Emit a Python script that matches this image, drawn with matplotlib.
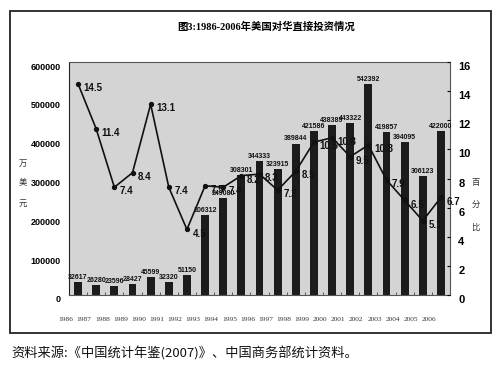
import matplotlib
matplotlib.use('Agg')
import matplotlib.pyplot as plt
import matplotlib.transforms as mtransforms
from matplotlib.patches import Rectangle
import numpy as np

plt.rcParams['font.family'] = ['Liberation Sans', 'Noto Sans CJK SC', 'DejaVu Sans']

years = ['1986', '1987', '1988', '1989', '1990', '1991', '1992', '1993', '1994', '1995', '1996',
         '1997', '1998', '1999', '2000', '2001', '2002', '2003', '2004', '2005', '2006']
# US direct investment in China, 10k USD
fdi = [32617, 26280, 23596, 28427, 45599, 32320, 51150, 206312, 249080, 308301, 344333,
       323915, 389844, 421586, 438389, 443322, 542392, 419857, 394095, 306123, 422000]
# share of total, %
share = [14.5, 11.4, 7.4, 8.4, 13.1, 7.4, 4.5, 7.5, 7.4, 8.2, 8.3,
         7.2, 8.5, 10.5, 10.8, 9.5, 10.3, 7.9, 6.5, 5.1, 6.7]

title = '图3:1986-2006年美国对华直接投资情况'
source = '资料来源:《中国统计年鉴(2007)》、中国商务部统计资料。'

fig = plt.figure(figsize=(4.95, 3.72), dpi=100)
fig.patch.set_facecolor('white')

# outer frame
fig.patches.append(Rectangle((0.02, 0.105), 0.972, 0.865, transform=fig.transFigure,
                             fill=False, edgecolor='#222222', linewidth=1.3))

ax = fig.add_axes([0.1394, 0.207, 0.7697, 0.6263])
ax.set_facecolor('#d4d4d4')
x = np.arange(len(years))
ax.bar(x, fdi, width=0.44, color='#1c1c1c', zorder=2)
ax.set_xlim(-0.5, len(years) - 0.5)
ax.set_ylim(0, 600000)
ax.set_yticks(range(0, 600001, 100000))
ax.tick_params(axis='y', labelsize=6.5, length=0, pad=6)
for lab in ax.get_yticklabels():
    lab.set_fontweight('bold')
    lab.set_transform(lab.get_transform() + mtransforms.ScaledTranslation(0, -4 / 100, fig.dpi_scale_trans))

ax.set_xticks(x)
ax.set_xticklabels(years, fontsize=5.3, family='Liberation Serif', color='#333333')
ax.tick_params(axis='x', length=0, pad=16)
for lab in ax.get_xticklabels():
    lab.set_transform(lab.get_transform() + mtransforms.ScaledTranslation(-12 / 100, 0, fig.dpi_scale_trans))
ax.set_xticks(x + 0.5, minor=True)
ax.tick_params(axis='x', which='minor', length=2, direction='in', color='#444444')

for sp in ax.spines.values():
    sp.set_color('#555555')
    sp.set_linewidth(0.8)
ax.spines['left'].set_color('#222222')

for i, v in enumerate(fdi):
    ax.text(i, v + 3000, str(v), ha='center', va='bottom', fontsize=5, fontweight='bold',
            color='#111111', zorder=3)

ax2 = ax.twinx()
ax2.plot(x, share, color='#111111', linewidth=1.2, marker='o', markersize=2.8, zorder=4)
ax2.set_ylim(0, 16)
ax2.set_yticks(range(0, 17, 2))
ax2.tick_params(axis='y', labelsize=8, length=2, direction='in', pad=6)
for lab in ax2.get_yticklabels():
    lab.set_fontweight('bold')
    lab.set_transform(lab.get_transform() + mtransforms.ScaledTranslation(0, -4 / 100, fig.dpi_scale_trans))
for sp in ax2.spines.values():
    sp.set_visible(False)

for i, v in enumerate(share):
    ax2.annotate(f'{v}', (i, v), xytext=(4, -3), textcoords='offset points',
                 ha='left', va='center', fontsize=7, fontweight='bold', color='#111111')

fig.text(0.537, 0.927, title, ha='center', va='center', fontsize=7.5, fontweight='bold',
         family=['Liberation Serif', 'Noto Sans CJK SC'])

for k, ch in enumerate('万美元'):
    fig.text(0.047, 1 - (163 + 20 * k) / 372, ch, ha='center', va='center', fontsize=6,
             family='Noto Sans CJK SC', color='#333333')
for k, ch in enumerate('百分比'):
    fig.text(0.961, 1 - (183 + 22 * k) / 372, ch, ha='center', va='center', fontsize=6,
             family='Noto Sans CJK SC', color='#333333')

fig.text(0.022, 0.051, source, ha='left', va='center', fontsize=9.5,
         family=['Noto Sans CJK SC', 'DejaVu Sans'], color='#111111')

fig.savefig('out.png', dpi=100)
